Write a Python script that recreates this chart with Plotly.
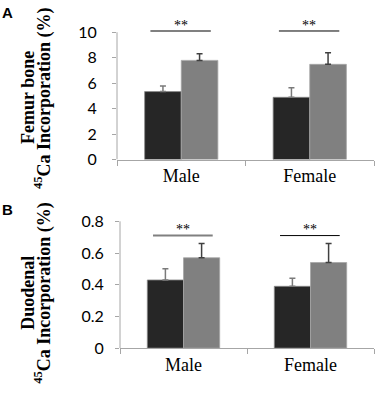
import plotly.graph_objects as go

categories = ["Male", "Female"]

femur_dark = [5.34, 4.89]
femur_dark_err = [0.43, 0.76]
femur_gray = [7.79, 7.48]
femur_gray_err = [0.53, 0.92]
femur_sig_y = 10.1
femur_star_y = 10.55
femur_ticks = [0, 2, 4, 6, 8, 10]

duo_dark = [0.43, 0.39]
duo_dark_err = [0.07, 0.05]
duo_gray = [0.57, 0.54]
duo_gray_err = [0.09, 0.12]
duo_sig_y = 0.71
duo_star_y = 0.75
duo_ticks = [0, 0.2, 0.4, 0.6, 0.8]
duo_ticktext = ["0", "0.2", "0.4", "0.6", "0.8"]

DARK = "#262626"
GRAY = "#808080"
AX = "#a6a6a6"

fig = go.Figure()

def add_bars(xa, ya, dark, dark_err, gray, gray_err):
    fig.add_trace(go.Bar(
        x=categories, y=dark, xaxis=xa, yaxis=ya,
        marker=dict(color=DARK, line=dict(color="#8c8c8c", width=0.8)),
        error_y=dict(type="data", array=dark_err, arrayminus=[0, 0], symmetric=False,
                     color="#7a7a7a", thickness=1.5, width=3),
        showlegend=False, hoverinfo="skip"))
    fig.add_trace(go.Bar(
        x=categories, y=gray, xaxis=xa, yaxis=ya,
        marker=dict(color=GRAY, line=dict(color="#a6a6a6", width=0.8)),
        error_y=dict(type="data", array=gray_err, arrayminus=[0, 0], symmetric=False,
                     color="#404040", thickness=1.5, width=3),
        showlegend=False, hoverinfo="skip"))

add_bars("x", "y", femur_dark, femur_dark_err, femur_gray, femur_gray_err)
add_bars("x2", "y2", duo_dark, duo_dark_err, duo_gray, duo_gray_err)

xcommon = dict(type="category", showline=True, linecolor=AX, linewidth=1,
               ticks="outside", tickson="boundaries", ticklen=5, tickcolor=AX,
               showgrid=False, zeroline=False,
               tickfont=dict(family="Liberation Serif", size=18, color="black"),
               ticklabelstandoff=0)
ycommon = dict(showline=False, ticks="outside", ticklen=4, tickcolor=AX,
               showgrid=False, zeroline=False,
               tickfont=dict(family="Lato", size=16, color="black"))

fig.update_layout(
    width=384, height=393,
    margin=dict(l=0, r=0, t=0, b=0),
    plot_bgcolor="white", paper_bgcolor="white",
    barmode="group", bargap=0.43, bargroupgap=0,
    xaxis=dict(domain=[117/384, 374/384], anchor="y", **xcommon),
    yaxis=dict(domain=[1-161.5/393, 1-22.3/393], anchor="x", range=[0, 10.6],
               tickvals=femur_ticks, ticklabelstandoff=12, **ycommon),
    xaxis2=dict(domain=[120/384, 374/384], anchor="y2", **xcommon),
    yaxis2=dict(domain=[1-356/393, 1-217/393], anchor="x2", range=[0, 0.85],
                tickvals=duo_ticks, ticktext=duo_ticktext, ticklabelstandoff=8, **ycommon),
)

shapes = []
annotations = []
for xa, ya, top, sig_y, star_y in [("x", "y", femur_ticks[-1], femur_sig_y, femur_star_y),
                                    ("x2", "y2", duo_ticks[-1], duo_sig_y, duo_star_y)]:
    shapes.append(dict(type="line", xref=xa + " domain", yref=ya, x0=0, x1=0, y0=0, y1=top,
                       line=dict(color=AX, width=1)))
    for i, (col, w) in enumerate([(GRAY, 2), ("black", 1)]):
        shapes.append(dict(type="line", xref=xa, yref=ya, x0=i - 0.24, x1=i + 0.23,
                           y0=sig_y, y1=sig_y, line=dict(color=col, width=w)))
        annotations.append(dict(text="**", xref=xa, yref=ya, x=i - 0.005, y=star_y,
                                showarrow=False, xanchor="center", yanchor="middle",
                                font=dict(family="Liberation Serif", size=14, color="black")))

title_font = dict(family="Liberation Serif", size=18, color="black", weight="bold")
for yc, l1 in [(1-98/393, "Femur bone"), (1-299/393, "Duodenal")]:
    annotations.append(dict(text=l1, xref="paper", yref="paper", x=28/384, y=yc,
                            textangle=-90, showarrow=False, xanchor="center", yanchor="middle",
                            font=title_font))
    annotations.append(dict(text="<sup>45</sup>Ca Incorporation (%)", xref="paper", yref="paper",
                            x=43/384, y=yc, textangle=-90, showarrow=False,
                            xanchor="center", yanchor="middle", font=title_font))

for yc, letter in [(1-10/393, "A"), (1-213/393, "B")]:
    annotations.append(dict(text=letter, xref="paper", yref="paper", x=7/384, y=yc,
                            showarrow=False, xanchor="center", yanchor="middle",
                            font=dict(family="Liberation Sans", size=15, color="black", weight="bold")))

fig.update_layout(shapes=shapes, annotations=annotations)
fig.write_html("out.html", config={"displayModeBar": False},
               post_script="document.body.style.margin='0px';")
